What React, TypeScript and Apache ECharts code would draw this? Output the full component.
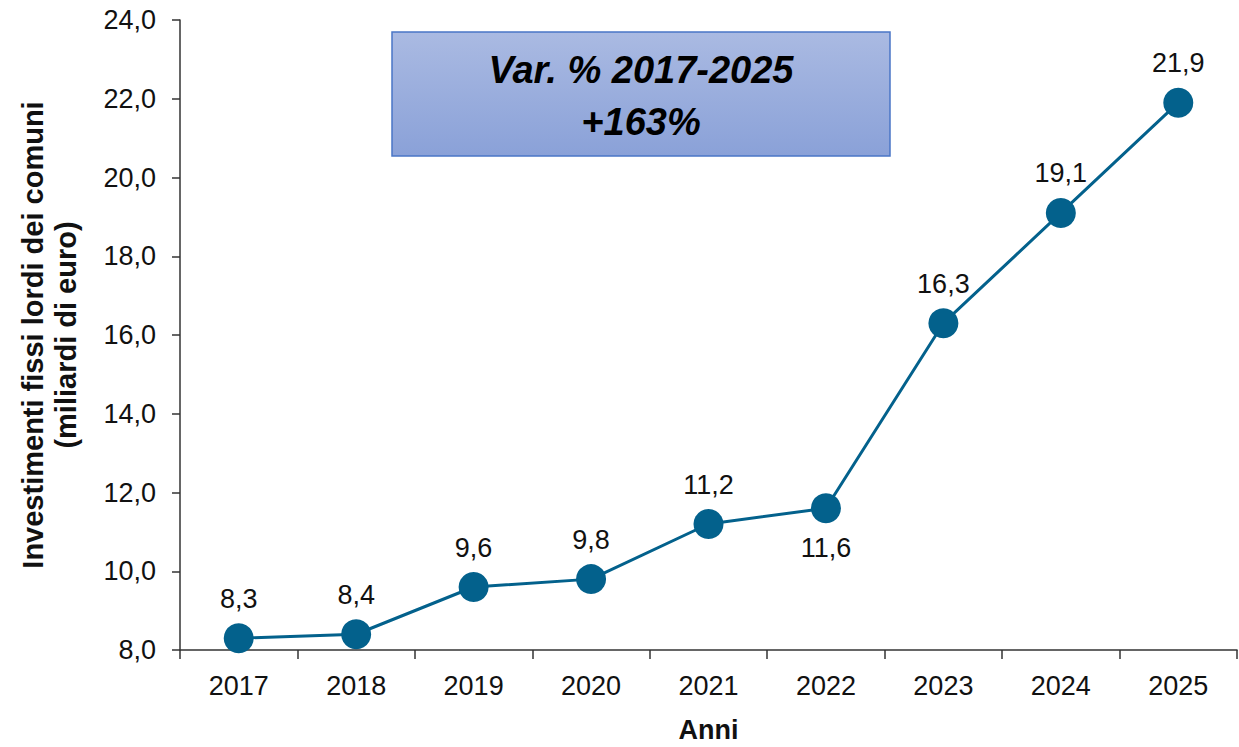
import React, { useEffect, useRef } from "react";
import * as echarts from "echarts";

const years = ["2017", "2018", "2019", "2020", "2021", "2022", "2023", "2024", "2025"];
const values = [8.3, 8.4, 9.6, 9.8, 11.2, 11.6, 16.3, 19.1, 21.9];
const labelBelowYears = ["2022"];
const yTitle = "Investimenti fissi lordi dei comuni\n(miliardi di euro)";
const xTitle = "Anni";
const boxLines = ["Var. % 2017-2025", "+163%"];

const fmt = (v: number) => v.toFixed(1).replace(".", ",");
const LINE = "#03618c";
const FONT = "'Liberation Sans', Arial, sans-serif";

export default function App() {
  const ref = useRef<HTMLDivElement>(null);
  useEffect(() => {
    document.body.style.margin = "0";
    if (!ref.current) return;
    const chart = echarts.init(ref.current, undefined, { renderer: "svg", width: 1239, height: 747 });
    chart.setOption({
      animation: false,
      backgroundColor: "#ffffff",
      grid: { left: 180, right: 2, top: 20, bottom: 97, containLabel: false, outerBoundsMode: "none" },
      xAxis: {
        type: "category",
        data: years,
        name: xTitle,
        nameLocation: "middle",
        nameGap: 66,
        nameTextStyle: { fontFamily: FONT, fontSize: 27, fontWeight: "bold", color: "#111", lineHeight: 28 },
        axisLine: { lineStyle: { color: "#333", width: 1.5 } },
        axisTick: { show: true, length: 9, lineStyle: { color: "#333", width: 1.5 } },
        axisLabel: { fontFamily: FONT, fontSize: 27, color: "#111", margin: 22 },
      },
      yAxis: {
        type: "value",
        min: 8,
        max: 24,
        interval: 2,
        name: yTitle,
        nameLocation: "middle",
        nameGap: 98,
        nameTextStyle: { fontFamily: FONT, fontSize: 29, fontWeight: "bold", color: "#111", lineHeight: 33 },
        axisLine: { show: true, lineStyle: { color: "#333", width: 1.5 } },
        axisTick: { show: true, length: 8, lineStyle: { color: "#333", width: 1.5 } },
        splitLine: { show: false },
        axisLabel: { fontFamily: FONT, fontSize: 27, color: "#111", margin: 24, formatter: (v: number) => fmt(v) },
      },
      series: [
        {
          type: "line",
          data: values.map((v, i) => ({
            value: v,
            label: { position: labelBelowYears.includes(years[i]) ? "bottom" : "top" },
          })),
          symbol: "circle",
          symbolSize: 30,
          lineStyle: { color: LINE, width: 3 },
          itemStyle: { color: LINE },
          label: {
            show: true,
            distance: 11,
            fontFamily: FONT,
            fontSize: 27,
            color: "#111",
            formatter: (p: any) => fmt(p.value),
          },
        },
      ],
      graphic: [
        {
          type: "rect",
          shape: { x: 392, y: 32, width: 498, height: 124 },
          style: {
            fill: new echarts.graphic.LinearGradient(0, 0, 0, 1, [
              { offset: 0, color: "#aabae2" },
              { offset: 1, color: "#8aa1d8" },
            ]),
            stroke: "#4a76c6",
            lineWidth: 1.5,
          },
        },
        {
          type: "text",
          x: 641,
          y: 70,
          style: {
            text: boxLines[0],
            font: "italic bold 38px 'Liberation Sans', Arial, sans-serif",
            fill: "#000",
            align: "center",
            verticalAlign: "middle",
          },
        },
        {
          type: "text",
          x: 641,
          y: 122,
          style: {
            text: boxLines[1],
            font: "italic bold 38px 'Liberation Sans', Arial, sans-serif",
            fill: "#000",
            align: "center",
            verticalAlign: "middle",
          },
        },
      ],
    });
    return () => chart.dispose();
  }, []);
  return (
    <div
      ref={ref}
      style={{ position: "absolute", left: 0, top: 0, width: 1239, height: 747, background: "#fff" }}
    />
  );
}
